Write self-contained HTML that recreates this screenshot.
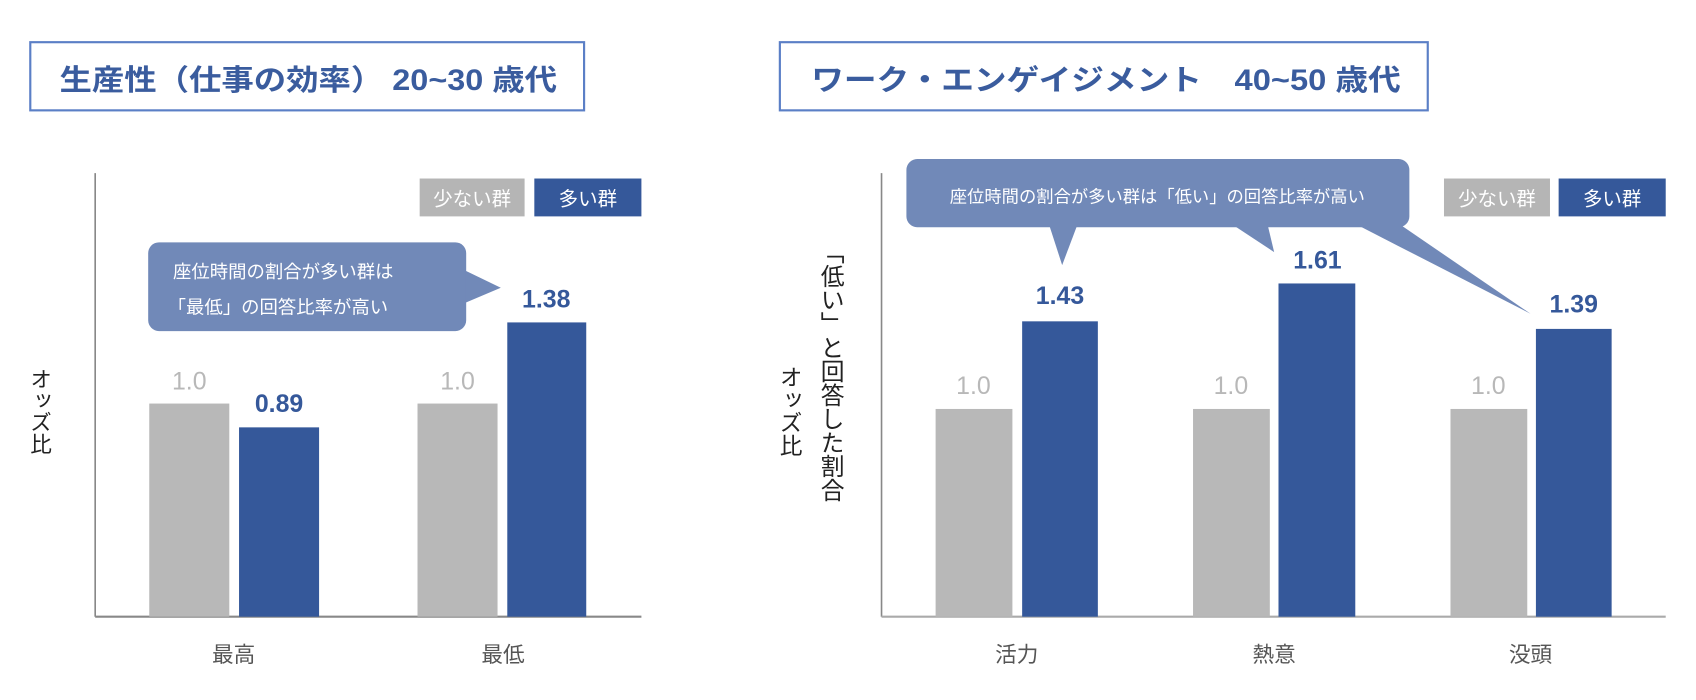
<!DOCTYPE html>
<html><head><meta charset="utf-8"><style>
html,body{margin:0;padding:0;background:#fff;width:1696px;height:700px;overflow:hidden}
svg{display:block}
text{font-family:"Liberation Sans","Noto Sans CJK JP",sans-serif}
</style></head><body>
<svg width="1696" height="700" viewBox="0 0 1568 647" preserveAspectRatio="none">
<!-- titles -->
<rect x="28" y="39" width="512" height="63" fill="#fff" stroke="#5b7fc6" stroke-width="2"/>
<text x="55" y="83" font-size="27" font-weight="bold" fill="#3a5c9e" textLength="460" lengthAdjust="spacingAndGlyphs">生産性（仕事の効率） 20~30 歳代</text>
<rect x="721" y="39" width="599" height="63" fill="#fff" stroke="#5b7fc6" stroke-width="2"/>
<text x="750" y="83" font-size="27" font-weight="bold" fill="#3a5c9e" textLength="545" lengthAdjust="spacingAndGlyphs">ワーク・エンゲイジメント　40~50 歳代</text>

<!-- left chart -->
<line x1="88" y1="160" x2="88" y2="570" stroke="#888" stroke-width="1.5"/>
<line x1="88" y1="570" x2="593" y2="570" stroke="#888" stroke-width="2"/>
<rect x="388" y="165" width="97" height="35" fill="#b5b5b5"/>
<text x="436.5" y="190" font-size="18" fill="#fff" text-anchor="middle">少ない群</text>
<rect x="494" y="165" width="99" height="35" fill="#35589a"/>
<text x="543.5" y="190" font-size="18" fill="#fff" text-anchor="middle">多い群</text>
<rect x="138" y="373" width="74" height="197" fill="#b8b8b8"/>
<rect x="221" y="395" width="74" height="175" fill="#35589a"/>
<rect x="386" y="373" width="74" height="197" fill="#b8b8b8"/>
<rect x="469" y="298" width="73" height="272" fill="#35589a"/>
<text x="175" y="360" font-size="23" fill="#b8b8b8" text-anchor="middle">1.0</text>
<text x="258" y="381" font-size="23" font-weight="bold" fill="#35589a" text-anchor="middle">0.89</text>
<text x="423" y="360" font-size="23" fill="#b8b8b8" text-anchor="middle">1.0</text>
<text x="505" y="284" font-size="23" font-weight="bold" fill="#35589a" text-anchor="middle">1.38</text>
<rect x="137" y="224" width="294" height="82" rx="10" fill="#7189b8"/>
<polygon points="430,250 463,266 430,280" fill="#7189b8"/>
<text x="160" y="257" font-size="17" fill="#fff">座位時間の割合が多い群は</text>
<text x="155" y="290" font-size="17" fill="#fff">「最低」の回答比率が高い</text>
<text x="216" y="612" font-size="20" fill="#555" text-anchor="middle">最高</text>
<text x="465" y="612" font-size="20" fill="#555" text-anchor="middle">最低</text>
<text x="37" y="340" font-size="20" fill="#222" style="writing-mode:vertical-rl">オッズ比</text>

<!-- right chart -->
<line x1="815" y1="160" x2="815" y2="570" stroke="#888" stroke-width="1.5"/>
<line x1="815" y1="570" x2="1540" y2="570" stroke="#aaa" stroke-width="2"/>
<rect x="1335" y="165" width="98" height="35" fill="#b5b5b5"/>
<text x="1384" y="190" font-size="18" fill="#fff" text-anchor="middle">少ない群</text>
<rect x="1441" y="165" width="99" height="35" fill="#35589a"/>
<text x="1490.5" y="190" font-size="18" fill="#fff" text-anchor="middle">多い群</text>
<rect x="865" y="378" width="71" height="192" fill="#b8b8b8"/>
<rect x="945" y="297" width="70" height="273" fill="#35589a"/>
<rect x="1103" y="378" width="71" height="192" fill="#b8b8b8"/>
<rect x="1182" y="262" width="71" height="308" fill="#35589a"/>
<rect x="1341" y="378" width="71" height="192" fill="#b8b8b8"/>
<rect x="1420" y="304" width="70" height="266" fill="#35589a"/>
<text x="900" y="364" font-size="23" fill="#b8b8b8" text-anchor="middle">1.0</text>
<text x="1138" y="364" font-size="23" fill="#b8b8b8" text-anchor="middle">1.0</text>
<text x="1376" y="364" font-size="23" fill="#b8b8b8" text-anchor="middle">1.0</text>
<text x="980" y="281" font-size="23" font-weight="bold" fill="#35589a" text-anchor="middle">1.43</text>
<text x="1218" y="248" font-size="23" font-weight="bold" fill="#35589a" text-anchor="middle">1.61</text>
<text x="1455" y="289" font-size="23" font-weight="bold" fill="#35589a" text-anchor="middle">1.39</text>
<rect x="838" y="147" width="465" height="63" rx="10" fill="#7189b8"/>
<polygon points="970,208 996,208 982,245" fill="#7189b8"/>
<polygon points="1140,208 1172,208 1178,233" fill="#7189b8"/>
<polygon points="1255,208 1295,208 1415,290" fill="#7189b8"/>
<text x="1070" y="187" font-size="16" fill="#fff" text-anchor="middle">座位時間の割合が多い群は「低い」の回答比率が高い</text>
<text x="940" y="612" font-size="20" fill="#555" text-anchor="middle">活力</text>
<text x="1178" y="612" font-size="20" fill="#555" text-anchor="middle">熱意</text>
<text x="1415" y="612" font-size="20" fill="#555" text-anchor="middle">没頭</text>
<text x="767" y="222" font-size="22" fill="#222" style="writing-mode:vertical-rl">「低い」と回答した割合</text>
<text x="730" y="338" font-size="21" fill="#222" style="writing-mode:vertical-rl">オッズ比</text>
</svg>
</body></html>
